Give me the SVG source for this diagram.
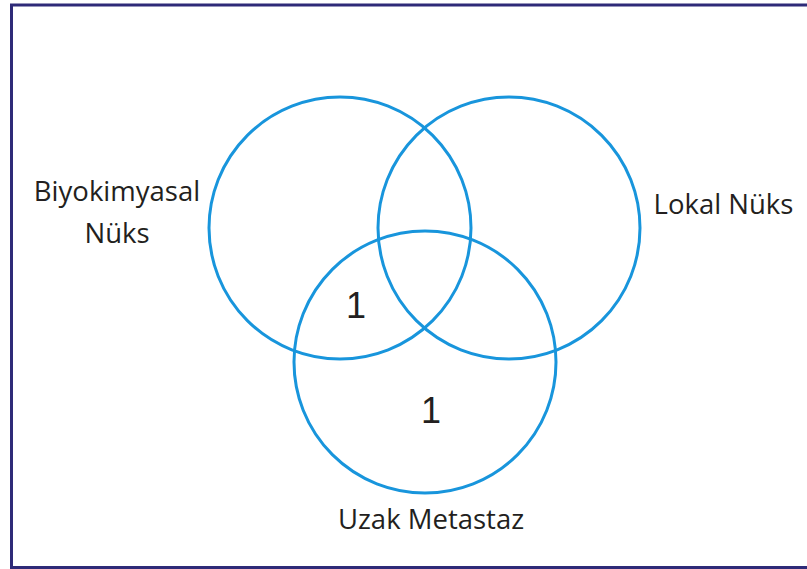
<svg xmlns="http://www.w3.org/2000/svg" width="807" height="569" viewBox="0 0 807 569">
<style>
.c{fill:none;stroke:#1895dc;stroke-width:3}
.lbl{font-family:"Open Sans","Liberation Sans",sans-serif;font-size:27.5px;fill:#231f20}
.num{font-family:"Liberation Sans",Arial,sans-serif;font-size:36px;fill:#231f20}
</style>
<rect x="0" y="0" width="807" height="569" fill="#ffffff"/>
<rect x="11.5" y="5" width="800" height="562.5" fill="none" stroke="#2e2a78" stroke-width="3"/>
<g id="biyokimyasal">
<circle class="c" cx="340" cy="228" r="131"/>
<text class="lbl" x="117" y="201" text-anchor="middle">Biyokimyasal</text>
<text class="lbl" x="117" y="243" text-anchor="middle">Nüks</text>
</g>
<g id="lokal">
<circle class="c" cx="509" cy="228" r="131"/>
<text class="lbl" x="723.5" y="214" text-anchor="middle">Lokal Nüks</text>
</g>
<g id="uzak">
<circle class="c" cx="425" cy="362" r="131"/>
<text class="lbl" x="431" y="529" text-anchor="middle">Uzak Metastaz</text>
</g>
<g id="counts">
<text class="num" x="356" y="318" text-anchor="middle">1</text>
<text class="num" x="431" y="423" text-anchor="middle">1</text>
</g>
</svg>
